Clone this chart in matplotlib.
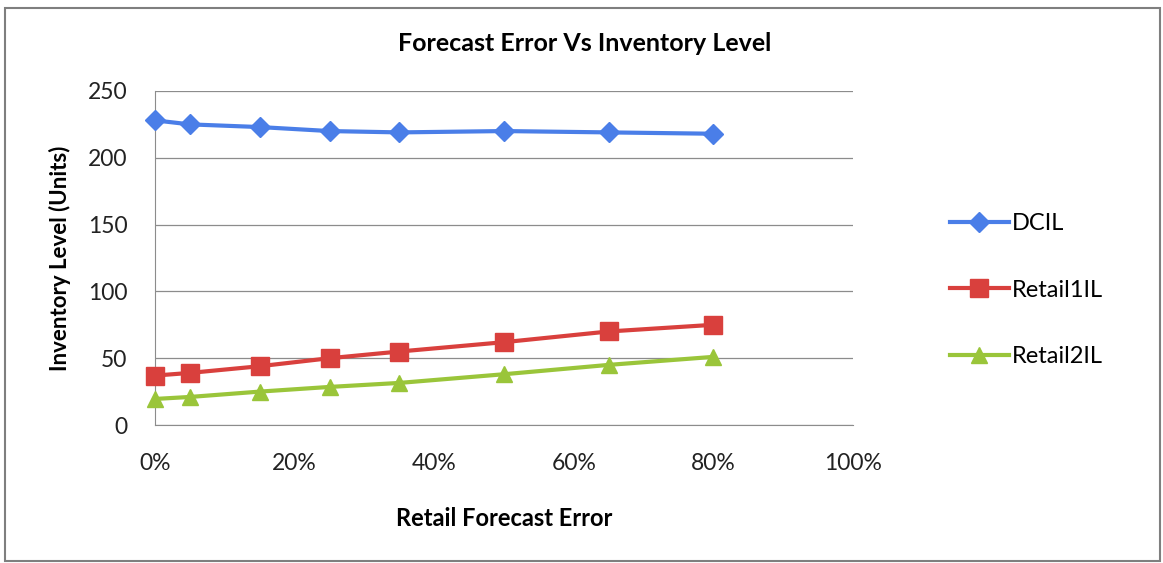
import matplotlib
matplotlib.use("Agg")
import matplotlib.pyplot as plt
from matplotlib.patches import Rectangle
from matplotlib.ticker import PercentFormatter

plt.rcParams['font.family'] = ['Lato', 'DejaVu Sans']

# retail forecast error levels (fraction) and inventory levels per node
forecast_error = [0.0, 0.05, 0.15, 0.25, 0.35, 0.50, 0.65, 0.80]
dc_il = [228, 225, 223, 220, 219, 220, 219, 218]
retail1_il = [37, 39, 44, 50, 55, 62, 70, 75]
retail2_il = [19.5, 21, 25, 28.5, 31.5, 38, 45, 51]

series_names = ['DCIL', 'Retail1IL', 'Retail2IL']
series_colors = ['#4A7EE8', '#D9403D', '#9AC53A']
series_markers = ['D', 's', '^']
marker_sizes = [10, 13, 12]

fig = plt.figure(figsize=(11.63, 5.63), dpi=100)
ax = fig.add_axes([0.1333, 0.2451, 0.6001, 0.5933])

for ys, name, col, mk, ms in zip([dc_il, retail1_il, retail2_il], series_names,
                                 series_colors, series_markers, marker_sizes):
    ax.plot(forecast_error, ys, color=col, lw=3, marker=mk, ms=ms,
            mec=col, label=name, clip_on=False, zorder=3)

ax.set_xlim(0, 1.0)
ax.set_ylim(0, 250)
ax.set_xticks([0, 0.2, 0.4, 0.6, 0.8, 1.0])
ax.set_yticks(range(0, 251, 50))
ax.xaxis.set_major_formatter(PercentFormatter(1.0, decimals=0))
ax.grid(axis='y', color='#8c8c8c', lw=0.9)
ax.set_axisbelow(True)
for side in ['top', 'right']:
    ax.spines[side].set_visible(False)
ax.spines['left'].set_color('#8c8c8c')
ax.spines['bottom'].set_color('#8c8c8c')
ax.tick_params(length=0, labelsize=16.5, colors='#222222')
ax.tick_params(axis='x', pad=20)
ax.tick_params(axis='y', pad=20)

# chart title sits centred over the whole chart area
fig.text(0.503, 0.922, 'Forecast Error Vs Inventory Level', fontsize=18,
         fontweight='bold', ha='center', va='center')
ax.set_xlabel('Retail Forecast Error', fontsize=17, fontweight='bold',
              labelpad=24)
ax.set_ylabel('Inventory Level (Units)', fontsize=16, fontweight='bold',
              labelpad=12)

leg = ax.legend(loc='center left', bbox_to_anchor=(1.108, 0.404), frameon=False,
                fontsize=17, handlelength=2.5, handletextpad=0.12,
                labelspacing=1.92)

# outer chart border
fig.patches.append(Rectangle((0.004, 0.004), 0.993, 0.982,
                             transform=fig.transFigure, fill=False,
                             edgecolor='#7f7f7f', lw=1.5))

fig.savefig('out.png', dpi=100)
